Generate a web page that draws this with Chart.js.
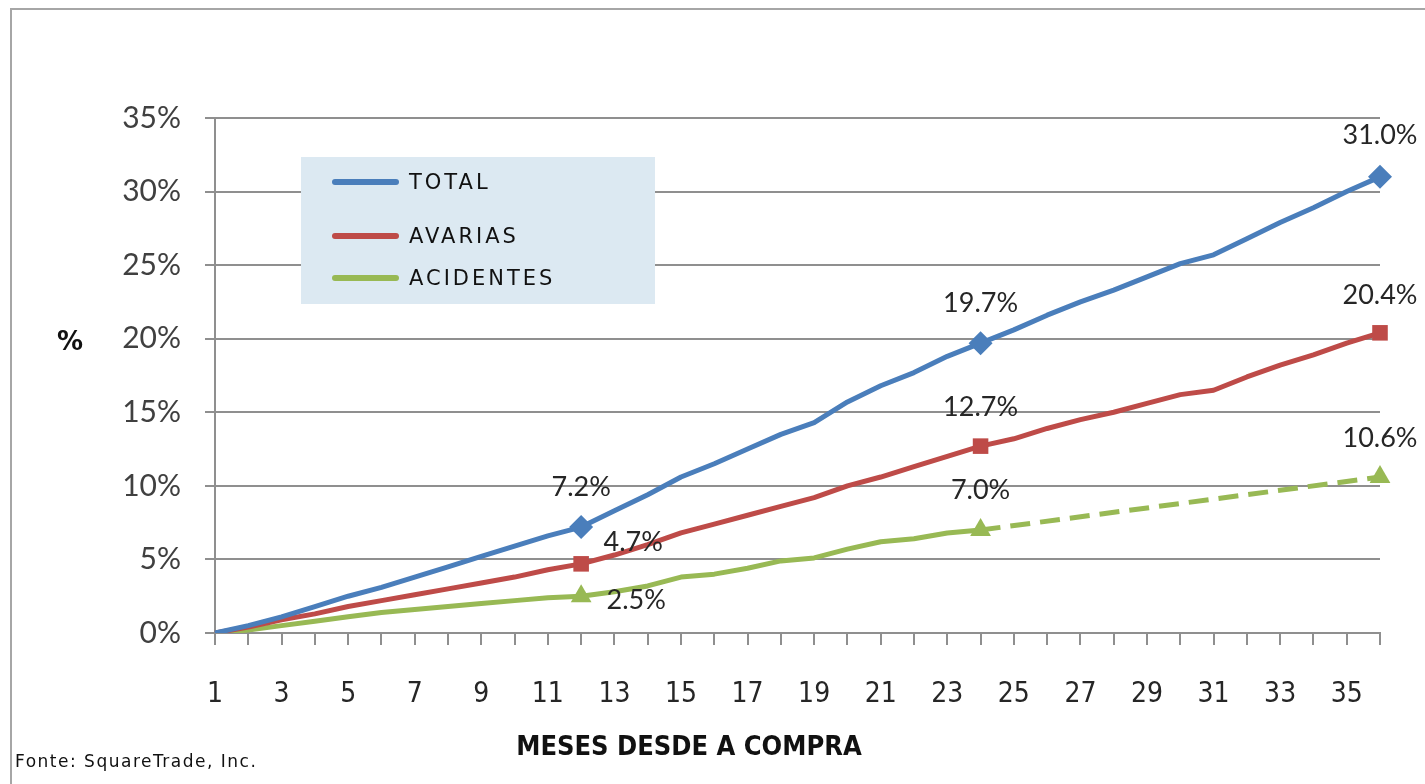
<!DOCTYPE html>
<html>
<head>
<meta charset="utf-8">
<script src="https://cdn.jsdelivr.net/npm/chart.js@4.4.1/dist/chart.umd.min.js"></script>
<style>
  html, body { margin: 0; padding: 0; background: #ffffff; }
  #wrap { width: 1425px; height: 784px; position: relative; }
</style>
</head>
<body>
<div id="wrap"><canvas id="c" width="1425" height="784"></canvas></div>
<script>
// ---- data ----
const months = ['1','2','3','4','5','6','7','8','9','10','11','12','13','14','15','16','17','18',
  '19','20','21','22','23','24','25','26','27','28','29','30','31','32','33','34','35','36'];
const seriesNames = ['TOTAL', 'AVARIAS', 'ACIDENTES'];
const totalValues = [0, 0.5, 1.1, 1.8, 2.5, 3.1, 3.8, 4.5, 5.2, 5.9, 6.6, 7.2,
  8.3, 9.4, 10.6, 11.5, 12.5, 13.5, 14.3, 15.7, 16.8, 17.7, 18.8, 19.7,
  20.6, 21.6, 22.5, 23.3, 24.2, 25.1, 25.7, 26.8, 27.9, 28.9, 30.0, 31.0];
const avariasValues = [0, 0.4, 0.9, 1.3, 1.8, 2.2, 2.6, 3.0, 3.4, 3.8, 4.3, 4.7,
  5.3, 6.0, 6.8, 7.4, 8.0, 8.6, 9.2, 10.0, 10.6, 11.3, 12.0, 12.7,
  13.2, 13.9, 14.5, 15.0, 15.6, 16.2, 16.5, 17.4, 18.2, 18.9, 19.7, 20.4];
const acidentesValues = [0, 0.2, 0.5, 0.8, 1.1, 1.4, 1.6, 1.8, 2.0, 2.2, 2.4, 2.5,
  2.8, 3.2, 3.8, 4.0, 4.4, 4.9, 5.1, 5.7, 6.2, 6.4, 6.8, 7.0,
  null, null, null, null, null, null, null, null, null, null, null, 10.6];
const markerMonths = ['12', '24', '36'];
const yTicks = [0, 5, 10, 15, 20, 25, 30, 35];

// ---- styling ----
const colors = ['#4a7ebb', '#be4b48', '#98b954'];
const markerStyles = ['rectRot', 'rect', 'triangle'];
const markerRadius = [12, 11, 12];
// label offsets (dx, dy) relative to the marker, per series, per marker month
const labelOffsets = [
  [[0, -40], [0, -40], [0, -42]],
  [[52, -22], [0, -39], [0, -38]],
  [[55, 4], [0, -40], [0, -39]]
];

function isMarker(ctx) { return markerMonths.includes(months[ctx.dataIndex]); }

const datasets = [totalValues, avariasValues, acidentesValues].map((vals, i) => ({
  label: seriesNames[i],
  data: vals,
  borderColor: colors[i],
  backgroundColor: colors[i],
  borderWidth: 5,
  tension: 0,
  spanGaps: true,
  pointStyle: markerStyles[i],
  pointRadius: ctx => isMarker(ctx) ? markerRadius[i] : 0,
  pointHoverRadius: ctx => isMarker(ctx) ? markerRadius[i] : 0,
  pointBorderWidth: 0,
  pointBackgroundColor: colors[i],
  borderCapStyle: 'butt',
  borderJoinStyle: 'round',
  segment: i === 2 ? { borderDash: ctx => ctx.p1DataIndex > 23 ? [20, 10] : undefined } : undefined
}));

const decor = {
  id: 'decor',
  afterDraw(chart) {
    const ctx = chart.ctx;
    ctx.save();
    // outer frame
    ctx.strokeStyle = '#a6a6a6';
    ctx.lineWidth = 2;
    ctx.beginPath();
    ctx.moveTo(11, 784);
    ctx.lineTo(11, 9);
    ctx.lineTo(1425, 9);
    ctx.stroke();

    // data labels
    ctx.fillStyle = '#262626';
    ctx.font = '27px Lato';
    ctx.textAlign = 'center';
    ctx.textBaseline = 'middle';
    chart.data.datasets.forEach((ds, di) => {
      const meta = chart.getDatasetMeta(di);
      markerMonths.forEach((m, k) => {
        const idx = months.indexOf(m);
        const pt = meta.data[idx];
        const v = ds.data[idx];
        if (!pt || v == null) return;
        const off = labelOffsets[di][k];
        ctx.fillText(v.toFixed(1) + '%', pt.x + off[0], pt.y + off[1]);
      });
    });

    // legend box
    ctx.fillStyle = '#dce9f2';
    ctx.fillRect(301, 157, 354, 147);
    const ly = [182, 236, 278];
    chart.data.datasets.forEach((ds, di) => {
      ctx.strokeStyle = ds.borderColor;
      ctx.lineWidth = 6;
      ctx.lineCap = 'round';
      ctx.beginPath();
      ctx.moveTo(335, ly[di]);
      ctx.lineTo(396, ly[di]);
      ctx.stroke();
      ctx.fillStyle = '#111111';
      ctx.font = '21px "DejaVu Sans"';
      ctx.letterSpacing = '3px';
      ctx.textAlign = 'left';
      ctx.textBaseline = 'middle';
      ctx.fillText(ds.label, 409, ly[di] + 2);
    });
    ctx.letterSpacing = '0px';

    // y-axis title
    ctx.fillStyle = '#111111';
    ctx.font = 'bold 26px "DejaVu Sans"';
    ctx.textAlign = 'center';
    ctx.textBaseline = 'middle';
    ctx.fillText('%', 70, 343);

    // x-axis title
    ctx.font = 'bold 27px "DejaVu Sans Condensed"';
    ctx.fillText('MESES DESDE A COMPRA', 689, 748);

    // source
    ctx.font = '17px "DejaVu Sans"';
    ctx.letterSpacing = '1.5px';
    ctx.textAlign = 'left';
    ctx.fillText('Fonte: SquareTrade, Inc.', 15, 763);
    ctx.restore();
  }
};

new Chart(document.getElementById('c'), {
  type: 'line',
  data: { labels: months, datasets },
  options: {
    responsive: false,
    devicePixelRatio: 1,
    animation: false,
    events: [],
    layout: { padding: { top: 118, right: 45, left: 0, bottom: 0 } },
    plugins: { legend: { display: false }, tooltip: { enabled: false }, title: { display: false } },
    scales: {
      x: {
        type: 'category',
        offset: false,
        grid: { display: true, drawOnChartArea: false, drawTicks: true, tickLength: 12, color: '#8f8f8f', lineWidth: 2 },
        border: { display: true, color: '#8f8f8f', width: 2 },
        ticks: {
          autoSkip: false, maxRotation: 0, minRotation: 0, padding: 33,
          color: '#262626',
          font: { family: '"DejaVu Sans Condensed"', size: 28 },
          callback: (val, idx) => (idx % 2 === 0 ? months[idx] : '')
        },
        afterFit: s => { s.height = 151; }
      },
      y: {
        min: 0, max: 35,
        afterBuildTicks: s => { s.ticks = yTicks.map(v => ({ value: v })); },
        grid: { color: '#8f8f8f', lineWidth: 2, tickLength: 10, drawTicks: true },
        border: { display: true, color: '#8f8f8f', width: 2 },
        ticks: {
          padding: 24, color: '#404040',
          font: { family: 'Lato', size: 30 },
          callback: v => v + '%'
        },
        afterFit: s => { s.width = 215; }
      }
    }
  },
  plugins: [decor]
});
</script>
</body>
</html>
